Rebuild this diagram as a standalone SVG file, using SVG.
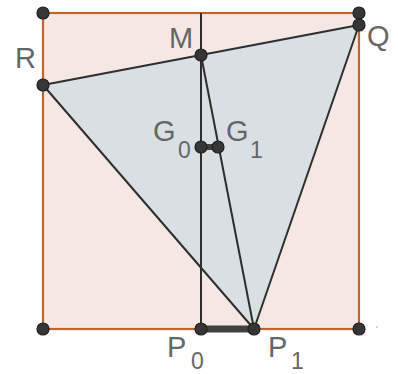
<svg xmlns="http://www.w3.org/2000/svg" width="398" height="374" viewBox="0 0 398 374">
<style>
.lbl{font-family:"Liberation Sans",Arial,sans-serif;font-size:29px;fill:#666666}
.sub{font-family:"Liberation Sans",Arial,sans-serif;font-size:23px;fill:#666666}
.ln{stroke:#2e2e2e;stroke-width:2;fill:none}
.pt{fill:#363636;stroke:#1f1f1f;stroke-width:1.2}
</style>
<rect width="398" height="374" fill="#ffffff"/>
<g id="square">
<rect x="43" y="13" width="316" height="316" fill="#f5e8e4" stroke="#c0652f" stroke-width="2.2"/>
</g>
<g id="triangle">
<polygon points="43,85 359,25 254,329" fill="#d9dfe2"/>
</g>
<g id="connectors">
<line class="ln" x1="43" y1="85" x2="359" y2="25"/>
<line class="ln" x1="43" y1="85" x2="254" y2="329"/>
<line class="ln" x1="359" y1="25" x2="254" y2="329"/>
<line class="ln" x1="201" y1="55" x2="254" y2="329"/>
<line class="ln" x1="201" y1="13" x2="201" y2="329"/>
<line x1="201" y1="329" x2="254" y2="329" stroke="#404040" stroke-width="7"/>
<line x1="201" y1="147" x2="218" y2="147" stroke="#404040" stroke-width="6"/>
</g>
<g id="corner-tl"><circle class="pt" cx="43" cy="13" r="6"/></g>
<g id="corner-tr"><circle class="pt" cx="359" cy="13" r="6"/></g>
<g id="corner-bl"><circle class="pt" cx="43" cy="329" r="6"/></g>
<g id="corner-br"><circle class="pt" cx="359" cy="329" r="6"/></g>
<g id="R"><circle class="pt" cx="43" cy="85" r="6"/><text class="lbl" x="15" y="68">R</text></g>
<g id="M"><circle class="pt" cx="201" cy="55" r="6"/><text class="lbl" x="169" y="48">M</text></g>
<g id="Q"><circle class="pt" cx="359" cy="25" r="6"/><text class="lbl" x="367" y="46">Q</text></g>
<g id="G0"><circle class="pt" cx="201" cy="147" r="6"/><text class="lbl" x="153" y="141">G</text><text class="sub" x="178" y="158">0</text></g>
<g id="G1"><circle class="pt" cx="218" cy="147" r="6"/><text class="lbl" x="226" y="141">G</text><text class="sub" x="250" y="158">1</text></g>
<g id="P0"><circle class="pt" cx="201" cy="329" r="6"/><text class="lbl" x="167" y="357">P</text><text class="sub" x="191" y="369">0</text></g>
<g id="P1"><circle class="pt" cx="254" cy="329" r="6"/><text class="lbl" x="268" y="357">P</text><text class="sub" x="291" y="369">1</text></g>
<circle cx="377" cy="327" r="1" fill="#c8c8c8"/>
</svg>
